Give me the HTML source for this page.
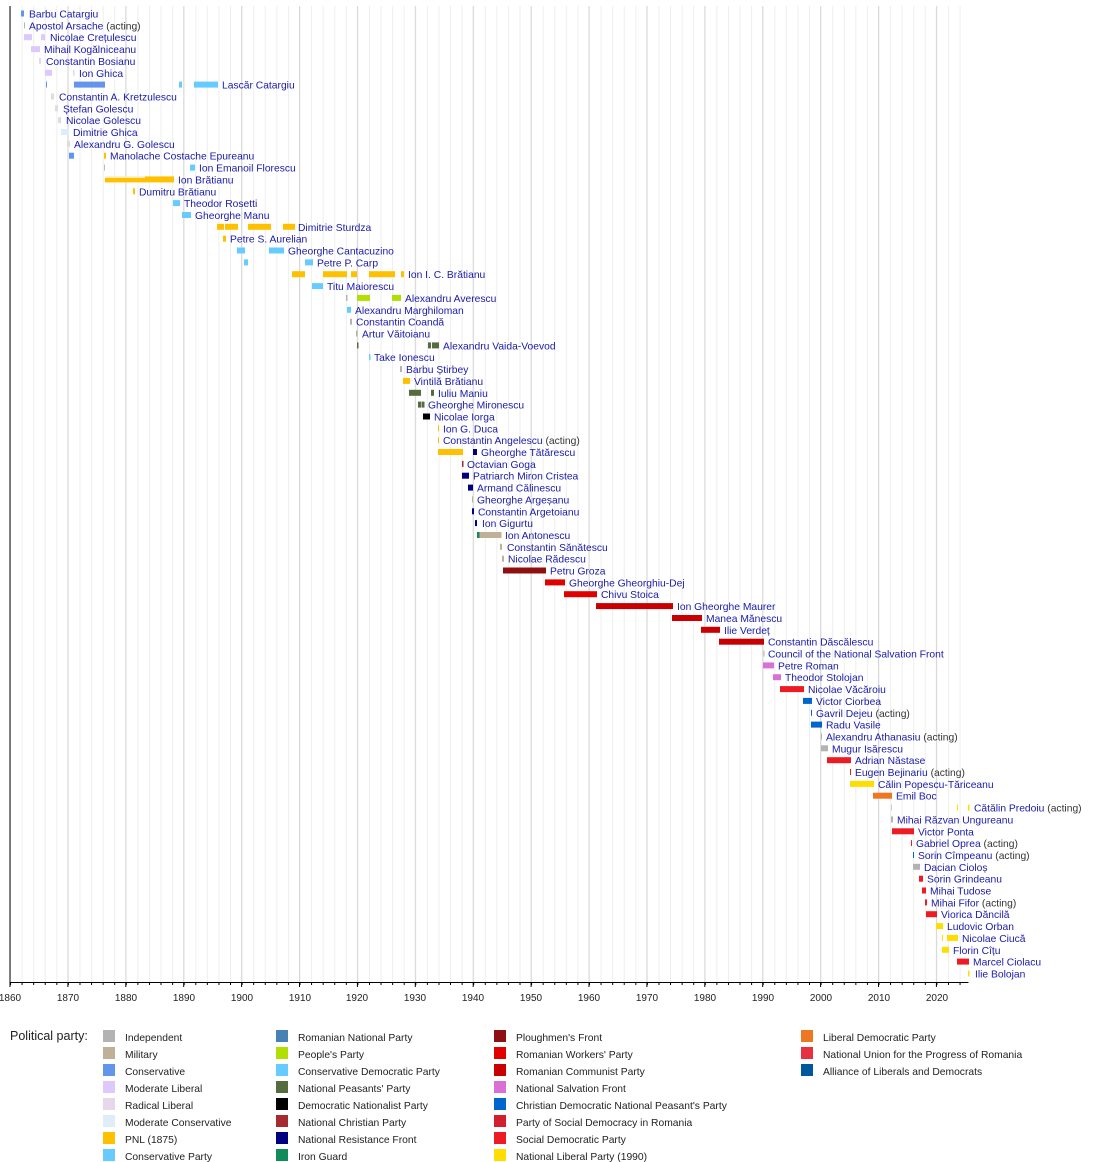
<!DOCTYPE html>
<html><head><meta charset="utf-8"><style>
body{margin:0;background:#fff}
svg{display:block;font-family:"Liberation Sans",sans-serif}
.l{font-size:10.3px;fill:#1a1aa8}
.a{fill:#333}
.g text{font-size:10.3px;fill:#222}
</style></head><body>
<svg width="1100" height="1162" viewBox="0 0 1100 1162" xmlns="http://www.w3.org/2000/svg">
<defs>
<pattern id="gp" x="10" y="0" width="11.58" height="10" patternUnits="userSpaceOnUse"><rect x="0" y="0" width="1" height="10" fill="#eeeeee"/></pattern>
<pattern id="tp" x="10" y="0" width="11.58" height="10" patternUnits="userSpaceOnUse"><rect x="0" y="0" width="1" height="10" fill="#000"/></pattern>
</defs>
<rect x="10" y="6" width="958" height="977" fill="url(#gp)"/>
<g fill="#d8d8d8">
<rect x="67.4" y="6" width="1" height="977"/><rect x="125.3" y="6" width="1" height="977"/><rect x="183.2" y="6" width="1" height="977"/><rect x="241.1" y="6" width="1" height="977"/><rect x="299" y="6" width="1" height="977"/><rect x="356.9" y="6" width="1" height="977"/><rect x="414.8" y="6" width="1" height="977"/><rect x="472.7" y="6" width="1" height="977"/><rect x="530.6" y="6" width="1" height="977"/><rect x="588.5" y="6" width="1" height="977"/><rect x="646.4" y="6" width="1" height="977"/><rect x="704.3" y="6" width="1" height="977"/><rect x="762.2" y="6" width="1" height="977"/><rect x="820.1" y="6" width="1" height="977"/><rect x="878" y="6" width="1" height="977"/><rect x="935.9" y="6" width="1" height="977"/>
</g>
<rect x="9.5" y="6" width="1" height="977" fill="#000"/>
<rect x="9.5" y="982" width="959" height="1" fill="#000"/>
<rect x="10" y="983" width="958" height="2" fill="url(#tp)"/>
<g fill="#000">
<rect x="9.5" y="983" width="1" height="4"/><rect x="67.4" y="983" width="1" height="4"/><rect x="125.3" y="983" width="1" height="4"/><rect x="183.2" y="983" width="1" height="4"/><rect x="241.1" y="983" width="1" height="4"/><rect x="299" y="983" width="1" height="4"/><rect x="356.9" y="983" width="1" height="4"/><rect x="414.8" y="983" width="1" height="4"/><rect x="472.7" y="983" width="1" height="4"/><rect x="530.6" y="983" width="1" height="4"/><rect x="588.5" y="983" width="1" height="4"/><rect x="646.4" y="983" width="1" height="4"/><rect x="704.3" y="983" width="1" height="4"/><rect x="762.2" y="983" width="1" height="4"/><rect x="820.1" y="983" width="1" height="4"/><rect x="878" y="983" width="1" height="4"/><rect x="935.9" y="983" width="1" height="4"/>
</g>
<g font-size="10" fill="#222" text-anchor="middle">
<text x="10" y="1001">1860</text><text x="68" y="1001">1870</text><text x="126" y="1001">1880</text><text x="184" y="1001">1890</text><text x="242" y="1001">1900</text><text x="300" y="1001">1910</text><text x="357" y="1001">1920</text><text x="415" y="1001">1930</text><text x="473" y="1001">1940</text><text x="531" y="1001">1950</text><text x="589" y="1001">1960</text><text x="647" y="1001">1970</text><text x="705" y="1001">1980</text><text x="763" y="1001">1990</text><text x="821" y="1001">2000</text><text x="879" y="1001">2010</text><text x="937" y="1001">2020</text>
</g>

<g transform="translate(0,13.5)"><rect x="21" y="-3" width="3" height="6" fill="#6495ED"/><text class="l" x="29" y="4">Barbu Catargiu</text></g>
<g transform="translate(0,25.4)"><rect x="24" y="-3" width="1" height="6" fill="#b3b3b3"/><text class="l" x="29" y="4">Apostol Arsache <tspan class="a">(acting)</tspan></text></g>
<g transform="translate(0,37.2)"><rect x="24" y="-3" width="8" height="6" fill="#ddc9fb"/><rect x="41" y="-3" width="4" height="6" fill="#ddc9fb"/><text class="l" x="50" y="4">Nicolae Crețulescu</text></g>
<g transform="translate(0,49.1)"><rect x="31" y="-3" width="9" height="6" fill="#ddc9fb"/><text class="l" x="44" y="4">Mihail Kogălniceanu</text></g>
<g transform="translate(0,60.9)"><rect x="39" y="-3" width="2" height="6" fill="#e6d8ea"/><text class="l" x="46" y="4">Constantin Bosianu</text></g>
<g transform="translate(0,72.8)"><rect x="45" y="-3" width="7" height="6" fill="#ddc9fb"/><rect x="73" y="-3" width="1.5" height="6" fill="#ddd"/><text class="l" x="79" y="4">Ion Ghica</text></g>
<g transform="translate(0,84.6)"><rect x="46" y="-3" width="1" height="6" fill="#6495ED"/><rect x="74" y="-3" width="31" height="6" fill="#6495ED"/><rect x="179" y="-3" width="3" height="6" fill="#66ccff"/><rect x="194" y="-3" width="24" height="6" fill="#66ccff"/><text class="l" x="222" y="4">Lascăr Catargiu</text></g>
<g transform="translate(0,96.5)"><rect x="51" y="-3" width="3" height="6" fill="#ddd"/><text class="l" x="59" y="4">Constantin A. Kretzulescu</text></g>
<g transform="translate(0,108.3)"><rect x="55" y="-3" width="3" height="6" fill="#ddd"/><text class="l" x="63" y="4">Ștefan Golescu</text></g>
<g transform="translate(0,120.2)"><rect x="58" y="-3" width="3" height="6" fill="#ddd"/><text class="l" x="66" y="4">Nicolae Golescu</text></g>
<g transform="translate(0,132.0)"><rect x="61" y="-3" width="8" height="6" fill="#ddeef8"/><text class="l" x="73" y="4">Dimitrie Ghica</text></g>
<g transform="translate(0,143.9)"><rect x="67" y="-3" width="3" height="6" fill="#ddd"/><text class="l" x="74" y="4">Alexandru G. Golescu</text></g>
<g transform="translate(0,155.7)"><rect x="69" y="-3" width="5" height="6" fill="#6495ED"/><rect x="104" y="-3" width="2" height="6" fill="#ffc000"/><text class="l" x="110" y="4">Manolache Costache Epureanu</text></g>
<g transform="translate(0,167.6)"><rect x="104" y="-3" width="1" height="6" fill="#bbb"/><rect x="190" y="-3" width="5" height="6" fill="#66ccff"/><text class="l" x="199" y="4">Ion Emanoil Florescu</text></g>
<g transform="translate(0,179.4)"><rect x="105" y="-3" width="69" height="6" fill="#ffc000"/><rect x="105" y="-3" width="40" height="1.5" fill="#fff0c8"/><text class="l" x="178" y="4">Ion Brătianu</text></g>
<g transform="translate(0,191.3)"><rect x="133" y="-3" width="2" height="6" fill="#ffc000"/><text class="l" x="139" y="4">Dumitru Brătianu</text></g>
<g transform="translate(0,203.1)"><rect x="173" y="-3" width="7" height="6" fill="#66ccff"/><text class="l" x="184" y="4">Theodor Rosetti</text></g>
<g transform="translate(0,215.0)"><rect x="182" y="-3" width="9" height="6" fill="#66ccff"/><text class="l" x="195" y="4">Gheorghe Manu</text></g>
<g transform="translate(0,226.8)"><rect x="217" y="-3" width="7" height="6" fill="#ffc000"/><rect x="225" y="-3" width="13" height="6" fill="#ffc000"/><rect x="248" y="-3" width="23" height="6" fill="#ffc000"/><rect x="283" y="-3" width="12" height="6" fill="#ffc000"/><text class="l" x="298" y="4">Dimitrie Sturdza</text></g>
<g transform="translate(0,238.7)"><rect x="223" y="-3" width="3" height="6" fill="#ffc000"/><text class="l" x="230" y="4">Petre S. Aurelian</text></g>
<g transform="translate(0,250.5)"><rect x="237" y="-3" width="8" height="6" fill="#66ccff"/><rect x="269" y="-3" width="15" height="6" fill="#66ccff"/><text class="l" x="288" y="4">Gheorghe Cantacuzino</text></g>
<g transform="translate(0,262.4)"><rect x="244" y="-3" width="4" height="6" fill="#66ccff"/><rect x="305" y="-3" width="8" height="6" fill="#66ccff"/><text class="l" x="317" y="4">Petre P. Carp</text></g>
<g transform="translate(0,274.2)"><rect x="292" y="-3" width="13" height="6" fill="#ffc000"/><rect x="323" y="-3" width="24" height="6" fill="#ffc000"/><rect x="351" y="-3" width="6" height="6" fill="#ffc000"/><rect x="369" y="-3" width="26" height="6" fill="#ffc000"/><rect x="401" y="-3" width="3" height="6" fill="#ffc000"/><text class="l" x="408" y="4">Ion I. C. Brătianu</text></g>
<g transform="translate(0,286.1)"><rect x="312" y="-3" width="11" height="6" fill="#66ccff"/><text class="l" x="327" y="4">Titu Maiorescu</text></g>
<g transform="translate(0,297.9)"><rect x="346" y="-3" width="1.5" height="6" fill="#b3b3b3"/><rect x="357" y="-3" width="13" height="6" fill="#b2df00"/><rect x="392" y="-3" width="9" height="6" fill="#b2df00"/><text class="l" x="405" y="4">Alexandru Averescu</text></g>
<g transform="translate(0,309.8)"><rect x="347" y="-3" width="4" height="6" fill="#66ccff"/><text class="l" x="355" y="4">Alexandru Marghiloman</text></g>
<g transform="translate(0,321.7)"><rect x="350" y="-3" width="2" height="6" fill="#b3b3b3"/><text class="l" x="356" y="4">Constantin Coandă</text></g>
<g transform="translate(0,333.5)"><rect x="356" y="-3" width="1.5" height="6" fill="#b3b3b3"/><text class="l" x="362" y="4">Artur Văitoianu</text></g>
<g transform="translate(0,345.4)"><rect x="357" y="-3" width="1.5" height="6" fill="#556b40"/><rect x="428" y="-3" width="3" height="6" fill="#556b40"/><rect x="432" y="-3" width="7" height="6" fill="#556b40"/><text class="l" x="443" y="4">Alexandru Vaida-Voevod</text></g>
<g transform="translate(0,357.2)"><rect x="369" y="-3" width="1.5" height="6" fill="#66ccff"/><text class="l" x="374" y="4">Take Ionescu</text></g>
<g transform="translate(0,369.1)"><rect x="400" y="-3" width="2" height="6" fill="#b3b3b3"/><text class="l" x="406" y="4">Barbu Știrbey</text></g>
<g transform="translate(0,380.9)"><rect x="403" y="-3" width="7" height="6" fill="#ffc000"/><text class="l" x="414" y="4">Vintilă Brătianu</text></g>
<g transform="translate(0,392.8)"><rect x="409" y="-3" width="12" height="6" fill="#556b40"/><rect x="431" y="-3" width="3" height="6" fill="#556b40"/><text class="l" x="438" y="4">Iuliu Maniu</text></g>
<g transform="translate(0,404.6)"><rect x="418" y="-3" width="3" height="6" fill="#556b40"/><rect x="421.5" y="-3" width="3" height="6" fill="#556b40"/><text class="l" x="428" y="4">Gheorghe Mironescu</text></g>
<g transform="translate(0,416.5)"><rect x="423" y="-3" width="7" height="6" fill="#000"/><text class="l" x="434" y="4">Nicolae Iorga</text></g>
<g transform="translate(0,428.3)"><rect x="438" y="-3" width="1" height="6" fill="#ffc000"/><text class="l" x="443" y="4">Ion G. Duca</text></g>
<g transform="translate(0,440.2)"><rect x="438" y="-3" width="1" height="6" fill="#ffc000"/><text class="l" x="443" y="4">Constantin Angelescu <tspan class="a">(acting)</tspan></text></g>
<g transform="translate(0,452.0)"><rect x="438" y="-3" width="25" height="6" fill="#ffc000"/><rect x="473" y="-3" width="4" height="6" fill="#000080"/><text class="l" x="481" y="4">Gheorghe Tătărescu</text></g>
<g transform="translate(0,463.9)"><rect x="462" y="-3" width="1.5" height="6" fill="#a52b30"/><text class="l" x="467" y="4">Octavian Goga</text></g>
<g transform="translate(0,475.7)"><rect x="462" y="-3" width="7" height="6" fill="#000080"/><text class="l" x="473" y="4">Patriarch Miron Cristea</text></g>
<g transform="translate(0,487.6)"><rect x="468" y="-3" width="5" height="6" fill="#000080"/><text class="l" x="477" y="4">Armand Călinescu</text></g>
<g transform="translate(0,499.4)"><rect x="472" y="-3" width="1" height="6" fill="#c0b098"/><text class="l" x="477" y="4">Gheorghe Argeșanu</text></g>
<g transform="translate(0,511.3)"><rect x="472" y="-3" width="2" height="6" fill="#000080"/><text class="l" x="478" y="4">Constantin Argetoianu</text></g>
<g transform="translate(0,523.1)"><rect x="475" y="-3" width="2" height="6" fill="#000080"/><text class="l" x="482" y="4">Ion Gigurtu</text></g>
<g transform="translate(0,535.0)"><rect x="477" y="-3" width="2.5" height="6" fill="#138a5a"/><rect x="479.5" y="-3" width="22" height="6" fill="#c0b098"/><text class="l" x="505" y="4">Ion Antonescu</text></g>
<g transform="translate(0,546.8)"><rect x="500" y="-3" width="2" height="6" fill="#c0b098"/><text class="l" x="507" y="4">Constantin Sănătescu</text></g>
<g transform="translate(0,558.7)"><rect x="502" y="-3" width="2" height="6" fill="#c0b098"/><text class="l" x="508" y="4">Nicolae Rădescu</text></g>
<g transform="translate(0,570.5)"><rect x="503" y="-3" width="43" height="6" fill="#8f1010"/><text class="l" x="550" y="4">Petru Groza</text></g>
<g transform="translate(0,582.4)"><rect x="545" y="-3" width="20" height="6" fill="#e00000"/><text class="l" x="569" y="4">Gheorghe Gheorghiu-Dej</text></g>
<g transform="translate(0,594.2)"><rect x="564" y="-3" width="33" height="6" fill="#e00000"/><text class="l" x="601" y="4">Chivu Stoica</text></g>
<g transform="translate(0,606.1)"><rect x="596" y="-3" width="77" height="6" fill="#c80000"/><text class="l" x="677" y="4">Ion Gheorghe Maurer</text></g>
<g transform="translate(0,618.0)"><rect x="672" y="-3" width="30" height="6" fill="#c80000"/><text class="l" x="706" y="4">Manea Mănescu</text></g>
<g transform="translate(0,629.8)"><rect x="701" y="-3" width="19" height="6" fill="#c80000"/><text class="l" x="724" y="4">Ilie Verdeț</text></g>
<g transform="translate(0,641.7)"><rect x="719" y="-3" width="45" height="6" fill="#c80000"/><text class="l" x="768" y="4">Constantin Dăscălescu</text></g>
<g transform="translate(0,653.5)"><rect x="763.5" y="-3" width="1" height="6" fill="#b3b3b3"/><text class="l" x="768" y="4">Council of the National Salvation Front</text></g>
<g transform="translate(0,665.4)"><rect x="763" y="-3" width="11" height="6" fill="#da70d6"/><text class="l" x="778" y="4">Petre Roman</text></g>
<g transform="translate(0,677.2)"><rect x="773" y="-3" width="8" height="6" fill="#da70d6"/><text class="l" x="785" y="4">Theodor Stolojan</text></g>
<g transform="translate(0,689.1)"><rect x="780" y="-3" width="24" height="6" fill="#ed1c24"/><text class="l" x="808" y="4">Nicolae Văcăroiu</text></g>
<g transform="translate(0,700.9)"><rect x="803" y="-3" width="9" height="6" fill="#0066cc"/><text class="l" x="816" y="4">Victor Ciorbea</text></g>
<g transform="translate(0,712.8)"><rect x="811" y="-3" width="1" height="6" fill="#0066cc"/><text class="l" x="816" y="4">Gavril Dejeu <tspan class="a">(acting)</tspan></text></g>
<g transform="translate(0,724.6)"><rect x="811" y="-3" width="11" height="6" fill="#0066cc"/><text class="l" x="826" y="4">Radu Vasile</text></g>
<g transform="translate(0,736.5)"><rect x="821" y="-3" width="1" height="6" fill="#b3b3b3"/><text class="l" x="826" y="4">Alexandru Athanasiu <tspan class="a">(acting)</tspan></text></g>
<g transform="translate(0,748.3)"><rect x="821" y="-3" width="7" height="6" fill="#b3b3b3"/><text class="l" x="832" y="4">Mugur Isărescu</text></g>
<g transform="translate(0,760.2)"><rect x="827" y="-3" width="24" height="6" fill="#ed1c24"/><text class="l" x="855" y="4">Adrian Năstase</text></g>
<g transform="translate(0,772.0)"><rect x="850" y="-3" width="1" height="6" fill="#ed1c24"/><text class="l" x="855" y="4">Eugen Bejinariu <tspan class="a">(acting)</tspan></text></g>
<g transform="translate(0,783.9)"><rect x="850" y="-3" width="24" height="6" fill="#ffdd00"/><text class="l" x="878" y="4">Călin Popescu-Tăriceanu</text></g>
<g transform="translate(0,795.7)"><rect x="873" y="-3" width="19" height="6" fill="#ee7722"/><text class="l" x="896" y="4">Emil Boc</text></g>
<g transform="translate(0,807.6)"><rect x="891" y="-3" width="1" height="6" fill="#ccc"/><rect x="957" y="-3" width="1" height="6" fill="#ffdd00"/><rect x="968" y="-3" width="1.5" height="6" fill="#ffdd00"/><text class="l" x="974" y="4">Cătălin Predoiu <tspan class="a">(acting)</tspan></text></g>
<g transform="translate(0,819.4)"><rect x="891" y="-3" width="2" height="6" fill="#b3b3b3"/><text class="l" x="897" y="4">Mihai Răzvan Ungureanu</text></g>
<g transform="translate(0,831.3)"><rect x="892" y="-3" width="22" height="6" fill="#ed1c24"/><text class="l" x="918" y="4">Victor Ponta</text></g>
<g transform="translate(0,843.1)"><rect x="911" y="-3" width="1" height="6" fill="#ed1c24"/><text class="l" x="916" y="4">Gabriel Oprea <tspan class="a">(acting)</tspan></text></g>
<g transform="translate(0,855.0)"><rect x="913" y="-3" width="1" height="6" fill="#0066cc"/><text class="l" x="918" y="4">Sorin Cîmpeanu <tspan class="a">(acting)</tspan></text></g>
<g transform="translate(0,866.8)"><rect x="913" y="-3" width="7" height="6" fill="#b3b3b3"/><text class="l" x="924" y="4">Dacian Cioloș</text></g>
<g transform="translate(0,878.7)"><rect x="919" y="-3" width="4" height="6" fill="#ed1c24"/><text class="l" x="927" y="4">Sorin Grindeanu</text></g>
<g transform="translate(0,890.5)"><rect x="922" y="-3" width="4" height="6" fill="#ed1c24"/><text class="l" x="930" y="4">Mihai Tudose</text></g>
<g transform="translate(0,902.4)"><rect x="925" y="-3" width="2" height="6" fill="#ed1c24"/><text class="l" x="931" y="4">Mihai Fifor <tspan class="a">(acting)</tspan></text></g>
<g transform="translate(0,914.2)"><rect x="926" y="-3" width="11" height="6" fill="#ed1c24"/><text class="l" x="941" y="4">Viorica Dăncilă</text></g>
<g transform="translate(0,926.1)"><rect x="936" y="-3" width="7" height="6" fill="#ffdd00"/><text class="l" x="947" y="4">Ludovic Orban</text></g>
<g transform="translate(0,937.9)"><rect x="942" y="-3" width="1" height="6" fill="#ffdd00"/><rect x="947" y="-3" width="11" height="6" fill="#ffdd00"/><text class="l" x="962" y="4">Nicolae Ciucă</text></g>
<g transform="translate(0,949.8)"><rect x="942" y="-3" width="7" height="6" fill="#ffdd00"/><text class="l" x="953" y="4">Florin Cîțu</text></g>
<g transform="translate(0,961.6)"><rect x="957" y="-3" width="12" height="6" fill="#ed1c24"/><text class="l" x="973" y="4">Marcel Ciolacu</text></g>
<g transform="translate(0,973.5)"><rect x="968" y="-3" width="1.5" height="6" fill="#ffdd00"/><text class="l" x="975" y="4">Ilie Bolojan</text></g>

<text x="10" y="1040" font-size="12.5" fill="#222">Political party:</text>
<g class="g">
<rect x="103" y="1030" width="12" height="12" fill="#b3b3b3"/><text x="125" y="1041">Independent</text>
<rect x="103" y="1047" width="12" height="12" fill="#c0b098"/><text x="125" y="1058">Military</text>
<rect x="103" y="1064" width="12" height="12" fill="#6495ed"/><text x="125" y="1075">Conservative</text>
<rect x="103" y="1081" width="12" height="12" fill="#ddc9fb"/><text x="125" y="1092">Moderate Liberal</text>
<rect x="103" y="1098" width="12" height="12" fill="#e6d8ea"/><text x="125" y="1109">Radical Liberal</text>
<rect x="103" y="1115" width="12" height="12" fill="#ddeef8"/><text x="125" y="1126">Moderate Conservative</text>
<rect x="103" y="1132" width="12" height="12" fill="#ffc000"/><text x="125" y="1143">PNL (1875)</text>
<rect x="103" y="1149" width="12" height="12" fill="#66ccff"/><text x="125" y="1160">Conservative Party</text>
<rect x="276" y="1030" width="12" height="12" fill="#4682b4"/><text x="298" y="1041">Romanian National Party</text>
<rect x="276" y="1047" width="12" height="12" fill="#b2df00"/><text x="298" y="1058">People's Party</text>
<rect x="276" y="1064" width="12" height="12" fill="#66ccff"/><text x="298" y="1075">Conservative Democratic Party</text>
<rect x="276" y="1081" width="12" height="12" fill="#556b40"/><text x="298" y="1092">National Peasants' Party</text>
<rect x="276" y="1098" width="12" height="12" fill="#000"/><text x="298" y="1109">Democratic Nationalist Party</text>
<rect x="276" y="1115" width="12" height="12" fill="#a52b30"/><text x="298" y="1126">National Christian Party</text>
<rect x="276" y="1132" width="12" height="12" fill="#000080"/><text x="298" y="1143">National Resistance Front</text>
<rect x="276" y="1149" width="12" height="12" fill="#138a5a"/><text x="298" y="1160">Iron Guard</text>
<rect x="494" y="1030" width="12" height="12" fill="#8f1010"/><text x="516" y="1041">Ploughmen's Front</text>
<rect x="494" y="1047" width="12" height="12" fill="#e00000"/><text x="516" y="1058">Romanian Workers' Party</text>
<rect x="494" y="1064" width="12" height="12" fill="#c80000"/><text x="516" y="1075">Romanian Communist Party</text>
<rect x="494" y="1081" width="12" height="12" fill="#da70d6"/><text x="516" y="1092">National Salvation Front</text>
<rect x="494" y="1098" width="12" height="12" fill="#0066cc"/><text x="516" y="1109">Christian Democratic National Peasant's Party</text>
<rect x="494" y="1115" width="12" height="12" fill="#d22030"/><text x="516" y="1126">Party of Social Democracy in Romania</text>
<rect x="494" y="1132" width="12" height="12" fill="#ed1c24"/><text x="516" y="1143">Social Democratic Party</text>
<rect x="494" y="1149" width="12" height="12" fill="#ffdd00"/><text x="516" y="1160">National Liberal Party (1990)</text>
<rect x="801" y="1030" width="12" height="12" fill="#ee7722"/><text x="823" y="1041">Liberal Democratic Party</text>
<rect x="801" y="1047" width="12" height="12" fill="#e83040"/><text x="823" y="1058">National Union for the Progress of Romania</text>
<rect x="801" y="1064" width="12" height="12" fill="#00579d"/><text x="823" y="1075">Alliance of Liberals and Democrats</text>
</g>
</svg>
</body></html>
